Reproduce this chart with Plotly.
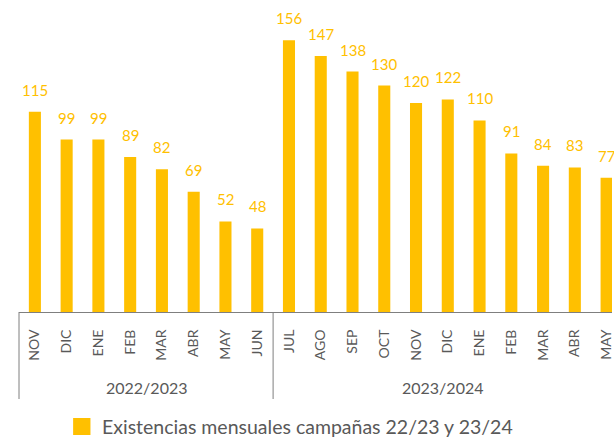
import plotly.graph_objects as go

months = ["NOV", "DIC", "ENE", "FEB", "MAR", "ABR", "MAY", "JUN",
          "JUL", "AGO", "SEP", "OCT", "NOV", "DIC", "ENE", "FEB", "MAR", "ABR", "MAY"]
values = [115, 99, 99, 89, 82, 69, 52, 48,
          156, 147, 138, 130, 120, 122, 110, 91, 84, 83, 77]
groups = ["2022/2023", "2023/2024"]
group_sizes = [8, 11]
legend_label = "Existencias mensuales campañas 22/23 y 23/24"

YELLOW = "#FFC000"
GRAY = "#595959"
LINE = "#7f7f7f"
FONT = "Lato"

W, H = 614, 437
ML, MB = 19, 125
PLOT_H = H - MB  # 312
XMAX = 18.17


def py(pixel_y):
    """window pixel row -> paper y (below the plot area)"""
    return -(pixel_y - PLOT_H) / PLOT_H


x = list(range(len(months)))

fig = go.Figure()
fig.add_trace(go.Bar(
    x=x, y=values, marker=dict(color=YELLOW, line=dict(width=0)),
    showlegend=False, hoverinfo="skip",
))

annotations = []
for xi, v in zip(x, values):
    annotations.append(dict(
        x=xi, y=v, xref="x", yref="y", text=str(v), showarrow=False,
        yanchor="middle", yshift=22,
        font=dict(family=FONT, size=15, color=YELLOW),
    ))

div_bottom = py(399)
shapes = [dict(type="line", xref="paper", yref="paper", x0=0, x1=0, y0=0, y1=div_bottom,
               line=dict(color=LINE, width=1))]

start = 0
for g, n in zip(groups, group_sizes):
    end = start + n
    x0 = start - 0.5
    x1 = min(end - 0.5, XMAX)
    annotations.append(dict(
        x=(x0 + x1) / 2, y=py(387), xref="x", yref="paper", text=g, showarrow=False,
        yanchor="middle",
        font=dict(family=FONT, size=16, color=GRAY),
    ))
    if end < len(months):
        shapes.append(dict(type="line", xref="x", yref="paper", x0=end - 0.5, x1=end - 0.5,
                           y0=0, y1=div_bottom, line=dict(color=LINE, width=1)))
    start = end

# legend drawn manually (large square marker)
shapes.append(dict(type="rect", xref="paper", yref="paper",
                   x0=(73.3 - ML) / (W - ML), x1=(90.7 - ML) / (W - ML),
                   y0=py(418), y1=py(435),
                   fillcolor=YELLOW, line=dict(width=0)))
annotations.append(dict(
    x=(100 - ML) / (W - ML), y=py(426.5), xref="paper", yref="paper", text=legend_label,
    showarrow=False, xanchor="left", yanchor="middle",
    font=dict(family=FONT, size=19.5, color=GRAY),
))

fig.update_layout(
    width=W, height=H,
    margin=dict(l=ML, r=0, t=0, b=MB, pad=0),
    paper_bgcolor="white", plot_bgcolor="white",
    bargap=0.62,
    xaxis=dict(
        range=[-0.5, XMAX], tickmode="array", tickvals=x, ticktext=months,
        tickangle=-90, showline=True, linecolor=LINE, linewidth=1,
        ticks="outside", ticklen=11, tickcolor="rgba(0,0,0,0)",
        ticklabeloverflow="allow",
        showgrid=False, zeroline=False, fixedrange=True,
        tickfont=dict(family=FONT, size=14, color=GRAY),
    ),
    yaxis=dict(range=[0, PLOT_H / 1.742], visible=False, showgrid=False, fixedrange=True),
    annotations=annotations,
    shapes=shapes,
    showlegend=False,
)

fig.write_html(
    "out.html",
    config={"displayModeBar": False},
    post_script="document.documentElement.style.overflow='hidden';"
                "document.body.style.margin='0';document.body.style.overflow='hidden';",
)
